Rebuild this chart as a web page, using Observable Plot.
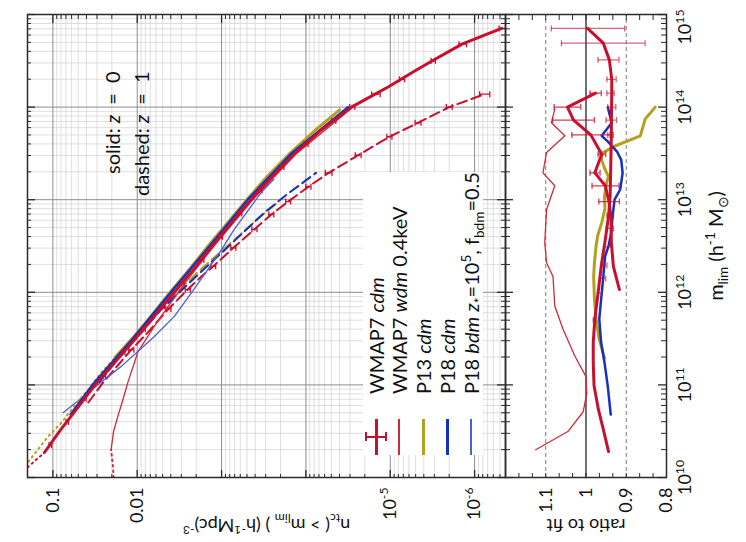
<!DOCTYPE html>
<html><head><meta charset="utf-8">
<script src="https://cdn.jsdelivr.net/npm/d3@7"></script>
<script src="https://cdn.jsdelivr.net/npm/@observablehq/plot@0.6"></script>
<style>
html,body{margin:0;padding:0;overflow:hidden;width:746px;height:542px;background:#fff;}
#fig{position:absolute;left:0;top:0;width:542px;height:746px;transform-origin:0 0;transform:translate(0px,542px) rotate(-90deg);font-family:Lato,sans-serif;}
#fig svg{display:block;overflow:visible;}
#legend{position:absolute;left:87px;top:363px;width:283px;height:120px;background:#fff;z-index:2;}
.row{position:absolute;left:0;height:24px;display:flex;align-items:center;font-size:20px;color:#111;white-space:nowrap;}
.row sub,.row sup{font-size:68%;line-height:0;}
.sw{position:relative;width:36px;height:24px;margin-right:25px;flex:none;}
.sw .ln{position:absolute;left:0;width:36px;}
.sw .eb{position:absolute;}
</style></head>
<body><div id="fig"><div id="legend"></div></div>
<script>
// ---------- colours ----------
const COL = {red:"#c8102e", redThin:"#cf2a3a", olive:"#b4a01e", blue:"#1830c0", blueThin:"#4a5fd8"};

// ---------- tick labels ----------
const mLabelTicks = [1e10, 1e11, 1e12, 1e13, 1e14, 1e15];
const mTickLabels = ["10^{10}", "10^{11}", "10^{12}", "10^{13}", "10^{14}", "10^{15}"];
const nLabelTicks = [0.1, 0.01, 1e-5, 1e-6];
const nTickLabels = ["0.1", "0.01", "10^{-5}", "10^{-6}"];
const ratioLabelTicks = [1.1, 1, 0.9, 0.8];
const ratioTickLabels = ["1.1", "1", "0.9", "0.8"];

// ---------- main panel: log10(m_lim) and log10(n) ----------
// WMAP7 cdm z=0 (thick red solid)
const cdm0_logM = [10.27,10.5,10.75,11.0,11.25,11.5,11.75,12.0,12.25,12.5,12.75,13.0,13.25,13.5,13.75,14.0,14.14,14.22,14.39,14.5,14.68,14.85];
const cdm0_logN = [-0.90,-1.08,-1.29,-1.50,-1.74,-1.98,-2.21,-2.44,-2.67,-2.89,-3.12,-3.35,-3.60,-3.87,-4.18,-4.54,-4.82,-4.98,-5.29,-5.50,-5.85,-6.32];
// below resolution (dotted)
const cdm0dot_logM = [10.11, 10.27];
const cdm0dot_logN = [-0.70, -0.90];
// simulation error bars z=0
const errZ0_logM = [10.35,10.6,10.85,11.1,11.35,11.6,11.85,12.1,12.35,12.6,12.85,13.1,13.35,13.6,13.85,14.0,14.14,14.3,14.5,14.68,14.85];
const errZ0_logN = [-0.97,-1.17,-1.38,-1.61,-1.84,-2.08,-2.31,-2.54,-2.77,-2.99,-3.22,-3.46,-3.72,-4.00,-4.33,-4.55,-4.83,-5.14,-5.51,-5.86,-6.33];
const errZ0_half = [0.015,0.015,0.015,0.015,0.015,0.015,0.015,0.015,0.02,0.02,0.02,0.02,0.02,0.025,0.025,0.03,0.05,0.03,0.025,0.045,0.04];

// WMAP7 cdm z=1 (red dashed)
const cdm1_logM = [10.81,11.03,11.38,11.57,11.82,12.03,12.17,12.28,12.48,12.68,12.84,12.98,13.14,13.29,13.48,13.68,13.83,14.0,14.14];
const cdm1_logN = [-1.42,-1.60,-1.93,-2.13,-2.37,-2.60,-2.76,-2.90,-3.14,-3.39,-3.59,-3.79,-4.03,-4.27,-4.62,-4.99,-5.33,-5.70,-6.12];
const errZ1_logM = [11.38,11.82,12.03,12.28,12.48,12.68,12.84,12.98,13.14,13.29,13.48,13.68,13.83,14.0,14.14];
const errZ1_logN = [-1.93,-2.37,-2.60,-2.90,-3.14,-3.39,-3.59,-3.79,-4.03,-4.27,-4.62,-4.99,-5.33,-5.70,-6.12];
const errZ1_half = [0.03,0.03,0.03,0.03,0.03,0.03,0.03,0.03,0.03,0.04,0.035,0.03,0.035,0.035,0.06];

// WMAP7 wdm 0.4keV z=0 (thin red)
const wdm_logM = [10.30,10.50,10.66,10.84,11.03,11.36,11.63,11.89,12.14,12.5,13.0,13.5,14.0];
const wdm_logN = [-1.69,-1.72,-1.77,-1.83,-1.89,-2.01,-2.20,-2.40,-2.60,-2.91,-3.37,-3.89,-4.56];
const wdmDot_logM = [10.0, 10.14, 10.30];
const wdmDot_logN = [-1.72, -1.71, -1.69];

// P13 cdm (olive)
const p13_logM = [11.3,11.5,11.75,12.0,12.25,12.5,12.75,13.0,13.25,13.5,13.75,13.97];
const p13_logN = [-1.74,-1.94,-2.17,-2.39,-2.62,-2.84,-3.07,-3.30,-3.54,-3.81,-4.11,-4.40];
const p13dot_logM = [10.17,10.44,10.59,10.77,10.95,11.13,11.3];
const p13dot_logN = [-0.71,-0.94,-1.10,-1.25,-1.42,-1.57,-1.74];
const p13z1_logM = [11.30,11.52,11.81,12.08,12.27,12.59,12.81,12.97];
const p13z1_logN = [-1.78,-2.01,-2.27,-2.56,-2.78,-3.18,-3.45,-3.67];

// P18 cdm (blue)
const p18_logM = [10.68,11.0,11.5,12.0,12.5,13.0,13.5,14.0];
const p18_logN = [-1.21,-1.47,-1.95,-2.40,-2.86,-3.31,-3.83,-4.50];
const p18z1_logM = [11.03,11.30,11.54,11.81,12.0,12.19,12.46,12.70,12.87,13.06,13.29];
const p18z1_logN = [-1.55,-1.79,-2.02,-2.28,-2.50,-2.72,-3.04,-3.32,-3.52,-3.78,-4.12];

// P18 bdm z*=1e5, f=0.5 (thin blue)
const bdm_logM = [10.70,10.85,11.00,11.20,11.38,11.52,11.74,12.03,12.25,12.46,12.68,12.89,13.08,13.22];
const bdm_logN = [-1.12,-1.33,-1.53,-1.81,-2.03,-2.20,-2.44,-2.67,-2.84,-3.00,-3.15,-3.32,-3.47,-3.62];

// ---------- ratio panel ----------
const r0_logM = [10.28,10.52,10.73,10.99,11.24,11.46,11.71,12.03,12.32,12.54,12.82,13.04,13.25,13.47,13.69,13.83,14.15,14.30,14.51,14.69,14.85];
const r0_val  = [0.944,0.957,0.969,0.980,0.982,0.982,0.978,0.969,0.961,0.953,0.944,0.940,0.939,0.938,0.937,0.937,0.936,0.936,0.942,0.957,0.996];
const r0err_logM = [11.70,11.99,12.15,12.29,12.49,12.69,12.83,13.70,13.86,14.0,14.15,14.30,14.51,14.69,14.85];
const r0err_lo   = [0.976,0.961,0.951,0.948,0.936,0.9315,0.9315,0.932,0.924,0.926,0.930,0.925,0.918,0.853,0.904];
const r0err_hi   = [0.982,0.971,0.965,0.961,0.954,0.950,0.948,0.946,0.950,0.946,0.948,0.948,0.970,1.061,1.086];

const r1_logM = [12.03,12.28,12.54,12.82,12.98,13.15,13.29,13.49,13.70,13.86,14.0,14.15];
const r1_val  = [0.917,0.932,0.937,0.938,0.943,0.952,0.978,0.961,0.988,1.031,1.046,0.976];
const r1err_logM = [12.98,13.15,13.29,13.49,13.70,13.86,14.0,14.15];
const r1err_lo   = [0.917,0.918,0.965,0.951,0.940,0.979,1.013,0.962];
const r1err_hi   = [0.968,0.985,0.990,0.970,1.035,1.083,1.079,0.990];

const rWdm_logM = [10.30,10.50,10.71,10.91,11.09,11.31,11.60,11.85,12.17,12.32,12.535,12.895,13.15,13.29,13.51,13.69,13.83,13.98];
const rWdm_val  = [1.125,1.044,1.007,0.998,1.0,1.0275,1.057,1.0775,1.082,1.098,1.1025,1.098,1.0775,1.107,1.098,1.0525,1.086,1.0775];

const rP13_logM = [11.29,11.49,11.71,11.92,12.17,12.32,12.50,12.61,12.75,12.90,13.04,13.18,13.25,13.33,13.43,13.50,13.58,13.69,13.87,14.0];
const rP13_val  = [0.954,0.967,0.975,0.979,0.981,0.979,0.975,0.971,0.961,0.953,0.954,0.949,0.944,0.953,0.961,0.961,0.928,0.865,0.853,0.828];

const rP18_logM = [10.68,10.99,11.24,11.46,11.71,11.92,12.17,12.39,12.50,12.64,12.82,13.0,13.11,13.29,13.43,13.52,13.63,13.69,13.83,14.0];
const rP18_val  = [0.9385,0.946,0.954,0.9625,0.967,0.9625,0.957,0.9525,0.944,0.9375,0.934,0.929,0.915,0.909,0.9125,0.923,0.946,0.961,0.936,0.946];

// ---------- legend ----------
const legendLabels = ["WMAP7 <i>cdm</i>", "WMAP7 <i>wdm</i> 0.4keV", "P13 <i>cdm</i>", "P18 <i>cdm</i>",
  "P18 <i>bdm</i> <i>z</i><sub>*</sub>=10<sup>5</sup>, f<sub>bdm</sub>=0.5"];

// ---------- helpers ----------
const pts = (lm, ln) => lm.map((m, i) => ({m: 10 ** m, n: 10 ** ln[i]}));
const rpts = (lm, v) => lm.map((m, i) => ({m: 10 ** m, r: v[i]}));
const errs = (lm, ln, h) => lm.map((m, i) => ({m: 10 ** m, lo: 10 ** (ln[i] - h[i]), hi: 10 ** (ln[i] + h[i])}));
const rerrs = (lm, lo, hi) => lm.map((m, i) => ({m: 10 ** m, lo: lo[i], hi: hi[i]}));
const capSymbol = {draw(ctx, size) { const r = Math.sqrt(size / Math.PI); ctx.moveTo(-r, 0); ctx.lineTo(r, 0); }};

const mMajor = [1e10, 1e11, 1e12, 1e13, 1e14, 1e15];
const mMinor = mMajor.slice(0, 5).flatMap(d => [2,3,4,5,6,7,8,9].map(k => k * d));
const nDomain = [4.3e-7, 0.2];
const nMajor = [1e-6, 1e-5, 1e-4, 1e-3, 1e-2, 1e-1];
const nMinor = [1e-7, ...nMajor].flatMap(d => [2,3,4,5,6,7,8,9].map(k => k * d)).filter(v => v > nDomain[0] && v < nDomain[1]);
const ratioMinor = d3.range(13).map(i => 0.8 + i / 30);

const W = 542, ML = 64, MR = 15;
const iw = W - ML - MR;
const H1 = 505, MT1 = 27, ih1 = H1 - MT1;
const H2 = 241, MB2 = 80, ih2 = H2 - MB2;
const frameCol = "#2a2a2a";

function errMarks(data, color, opacity) {
  return [
    Plot.ruleX(data, {x: "m", y1: "lo", y2: "hi", stroke: color, strokeWidth: 1.3, strokeOpacity: opacity, clip: true}),
    Plot.dot(data, {x: "m", y: "lo", symbol: capSymbol, r: 3, fill: "none", stroke: color, strokeWidth: 1.3, strokeOpacity: opacity, clip: true}),
    Plot.dot(data, {x: "m", y: "hi", symbol: capSymbol, r: 3, fill: "none", stroke: color, strokeWidth: 1.3, strokeOpacity: opacity, clip: true})
  ];
}

// ---------- main panel ----------
const main = Plot.plot({
  width: W, height: H1, marginLeft: ML, marginRight: MR, marginTop: MT1, marginBottom: 0,
  style: {fontFamily: "Lato, sans-serif", fontSize: "18px", overflow: "visible", background: "none"},
  x: {type: "log", domain: [1e10, 1e15], axis: null},
  y: {type: "log", domain: nDomain, axis: null},
  marks: [
    Plot.ruleX(mMinor, {x: d => d, stroke: "#d6d6d6", strokeWidth: 0.8}),
    Plot.ruleY(nMinor, {y: d => d, stroke: "#d6d6d6", strokeWidth: 0.8}),
    Plot.ruleX(mMajor, {x: d => d, stroke: "#8c8c8c", strokeWidth: 1}),
    Plot.ruleY(nMajor, {y: d => d, stroke: "#8c8c8c", strokeWidth: 1}),
    // z = 1 dashed
    Plot.line(pts(p13z1_logM, p13z1_logN), {x: "m", y: "n", stroke: COL.olive, strokeWidth: 2, strokeDasharray: "10,5", clip: true}),
    Plot.line(pts(p18z1_logM, p18z1_logN), {x: "m", y: "n", stroke: COL.blue, strokeWidth: 2, strokeDasharray: "10,5", clip: true}),
    Plot.line(pts(cdm1_logM, cdm1_logN), {x: "m", y: "n", stroke: COL.red, strokeWidth: 2, strokeDasharray: "10,5", clip: true}),
    ...errMarks(errs(errZ1_logM, errZ1_logN, errZ1_half), COL.red, 1),
    // thin curves
    Plot.line(pts(wdmDot_logM, wdmDot_logN), {x: "m", y: "n", stroke: COL.redThin, strokeWidth: 2, strokeDasharray: "1.5,4", strokeLinecap: "round", clip: true}),
    Plot.line(pts(wdm_logM, wdm_logN), {x: "m", y: "n", stroke: COL.redThin, strokeWidth: 1.3, clip: true}),
    Plot.line(pts(bdm_logM, bdm_logN), {x: "m", y: "n", stroke: COL.blueThin, strokeWidth: 1.3, clip: true}),
    // z = 0 thick
    Plot.line(pts(p13dot_logM, p13dot_logN), {x: "m", y: "n", stroke: COL.olive, strokeWidth: 2, strokeDasharray: "1.5,4", strokeLinecap: "round", clip: true}),
    Plot.line(pts(p13_logM, p13_logN), {x: "m", y: "n", stroke: COL.olive, strokeWidth: 3, clip: true}),
    Plot.line(pts(p18_logM, p18_logN), {x: "m", y: "n", stroke: COL.blue, strokeWidth: 2.5, clip: true}),
    Plot.line(pts(cdm0dot_logM, cdm0dot_logN), {x: "m", y: "n", stroke: COL.red, strokeWidth: 2, strokeDasharray: "1.5,4", strokeLinecap: "round", clip: true}),
    Plot.line(pts(cdm0_logM, cdm0_logN), {x: "m", y: "n", stroke: COL.red, strokeWidth: 3, clip: true}),
    ...errMarks(errs(errZ0_logM, errZ0_logN, errZ0_half), COL.red, 1),
    // frame and inward ticks
    Plot.frame({stroke: frameCol, strokeWidth: 1.5}),
    Plot.tickX(mMinor, {x: d => d, insetTop: ih1 - 4, stroke: frameCol}),
    Plot.tickX(mMinor, {x: d => d, insetBottom: ih1 - 4, stroke: frameCol}),
    Plot.tickX(mMajor, {x: d => d, insetTop: ih1 - 8, stroke: frameCol, strokeWidth: 1.3}),
    Plot.tickX(mMajor, {x: d => d, insetBottom: ih1 - 8, stroke: frameCol, strokeWidth: 1.3}),
    Plot.tickY(nMinor, {y: d => d, insetRight: iw - 4, stroke: frameCol}),
    Plot.tickY(nMinor, {y: d => d, insetLeft: iw - 4, stroke: frameCol}),
    Plot.tickY(nMajor, {y: d => d, insetRight: iw - 8, stroke: frameCol, strokeWidth: 1.3}),
    Plot.tickY(nMajor, {y: d => d, insetLeft: iw - 8, stroke: frameCol, strokeWidth: 1.3}),
    // labels
    Plot.text(nLabelTicks, {y: d => d, frameAnchor: "left", text: (d, i) => nTickLabels[i], textAnchor: "end", lineAnchor: "middle", dx: -10, fontSize: 18, fill: "#111"}),
    Plot.text(["n_{tc}( > m_{lim} ) (h^{-1}Mpc)^{-3}"], {frameAnchor: "left", rotate: -90, dx: -47, fontSize: 18, textAnchor: "middle", lineAnchor: "middle", fill: "#111"}),
    Plot.text(["solid: ~{z}\u2002=\u20020"], {frameAnchor: "top-right", dx: -57, dy: 86, textAnchor: "end", lineAnchor: "middle", fontSize: 20, fill: "#111"}),
    Plot.text(["dashed: ~{z}\u2002=\u20021"], {frameAnchor: "top-right", dx: -57, dy: 115, textAnchor: "end", lineAnchor: "middle", fontSize: 20, fill: "#111"})
  ]
});

// ---------- ratio panel ----------
const ratio = Plot.plot({
  width: W, height: H2, marginLeft: ML, marginRight: MR, marginTop: 0, marginBottom: MB2,
  style: {fontFamily: "Lato, sans-serif", fontSize: "18px", overflow: "visible", background: "none"},
  x: {type: "log", domain: [1e10, 1e15], axis: null},
  y: {domain: [0.8, 1.2], axis: null},
  marks: [
    Plot.ruleY([0.9, 1.1], {y: d => d, stroke: "#7a7a7a", strokeDasharray: "4,3", strokeWidth: 1}),
    Plot.ruleY([1], {y: d => d, stroke: "#111", strokeWidth: 1.2}),
    Plot.line(rpts(rWdm_logM, rWdm_val), {x: "m", y: "r", stroke: COL.redThin, strokeWidth: 1.3, clip: true}),
    Plot.line(rpts(rP13_logM, rP13_val), {x: "m", y: "r", stroke: COL.olive, strokeWidth: 3, clip: true}),
    Plot.line(rpts(rP18_logM, rP18_val), {x: "m", y: "r", stroke: COL.blue, strokeWidth: 2.5, clip: true}),
    Plot.line(rpts(r1_logM, r1_val), {x: "m", y: "r", stroke: COL.red, strokeWidth: 3, clip: true}),
    Plot.line(rpts(r0_logM, r0_val), {x: "m", y: "r", stroke: COL.red, strokeWidth: 3, clip: true}),
    ...errMarks(rerrs(r0err_logM, r0err_lo, r0err_hi), COL.red, 0.65),
    ...errMarks(rerrs(r1err_logM, r1err_lo, r1err_hi), COL.red, 0.8),
    Plot.frame({stroke: frameCol, strokeWidth: 1.5}),
    Plot.tickY(ratioMinor, {y: d => d, insetRight: iw - 5, stroke: frameCol}),
    Plot.tickY(ratioMinor, {y: d => d, insetLeft: iw - 5, stroke: frameCol}),
    Plot.tickX(mMinor, {x: d => d, insetTop: ih2 - 5, stroke: frameCol}),
    Plot.tickX(mMinor, {x: d => d, insetBottom: ih2 - 5, stroke: frameCol}),
    Plot.tickX(mMajor, {x: d => d, insetTop: ih2 - 8, stroke: frameCol, strokeWidth: 1.3}),
    Plot.tickX(mMajor, {x: d => d, insetBottom: ih2 - 8, stroke: frameCol, strokeWidth: 1.3}),
    Plot.text(ratioLabelTicks, {y: d => d, frameAnchor: "left", text: (d, i) => ratioTickLabels[i], textAnchor: "end", lineAnchor: "middle", dx: -10, fontSize: 18, fill: "#111"}),
    Plot.text(["ratio to fit"], {frameAnchor: "left", rotate: -90, dx: -47, fontSize: 18, textAnchor: "middle", lineAnchor: "middle", fill: "#111"}),
    Plot.text(mLabelTicks.slice(0, 5), {x: d => d, frameAnchor: "bottom", dy: 19, text: (d, i) => mTickLabels[i], textAnchor: "middle", lineAnchor: "middle", fontSize: 18, fill: "#111"}),
    Plot.text(mLabelTicks.slice(5), {x: d => d, frameAnchor: "bottom", dy: 19, dx: 5, text: () => mTickLabels[5], textAnchor: "end", lineAnchor: "middle", fontSize: 18, fill: "#111"}),
    Plot.text(["m_{lim} (h^{-1} M_{\u2299})"], {frameAnchor: "bottom", dy: 50, textAnchor: "middle", lineAnchor: "middle", fontSize: 20, fill: "#111"})
  ]
});

const fig = document.getElementById("fig");
fig.insertBefore(main, fig.firstChild);
fig.insertBefore(ratio, main.nextSibling);

// rich text (superscript ^{}, subscript _{}, italic ~{}) for SVG labels
function richify(root) {
  const NS = "http://www.w3.org/2000/svg";
  root.querySelectorAll("text").forEach(t => {
    const s = t.textContent;
    if (!/[\^_~]\{/.test(s)) return;
    const fs = parseFloat(getComputedStyle(t).fontSize) || 18;
    while (t.firstChild) t.removeChild(t.firstChild);
    const re = /([\^_~])\{([^}]*)\}/g;
    let last = 0, mm, shift = 0;
    const add = (txt, kind) => {
      if (!txt) return;
      const ts = document.createElementNS(NS, "tspan");
      ts.textContent = txt;
      const target = kind === "^" ? -0.42 * fs : kind === "_" ? 0.25 * fs : 0;
      const dy = target - shift;
      if (Math.abs(dy) > 1e-6) ts.setAttribute("dy", dy.toFixed(2));
      shift = target;
      if (kind === "^" || kind === "_") ts.setAttribute("font-size", (0.68 * fs).toFixed(2));
      if (kind === "~") ts.setAttribute("font-style", "italic");
      t.appendChild(ts);
    };
    while ((mm = re.exec(s))) { add(s.slice(last, mm.index), null); add(mm[2], mm[1]); last = re.lastIndex; }
    add(s.slice(last), null);
  });
}
richify(main); richify(ratio);

// ---------- legend (HTML) ----------
const legendColors = [COL.red, COL.redThin, COL.olive, COL.blue, COL.blueThin];
const legendWidths = [3, 1.6, 3, 3, 2];
const legendCenters = [13, 36, 60, 84, 108];
const leg = document.getElementById("legend");
legendLabels.forEach((lab, i) => {
  const row = document.createElement("div");
  row.className = "row";
  row.style.top = (legendCenters[i] - 12) + "px";
  const sw = document.createElement("div");
  sw.className = "sw";
  const ln = document.createElement("div");
  ln.className = "ln";
  ln.style.top = (12 - legendWidths[i] / 2) + "px";
  ln.style.height = legendWidths[i] + "px";
  ln.style.background = legendColors[i];
  sw.appendChild(ln);
  if (i === 0) {
    const v = document.createElement("div"); v.className = "eb";
    Object.assign(v.style, {left: "17px", top: "1.5px", width: "2px", height: "21px", background: COL.red});
    const c1 = document.createElement("div"); c1.className = "eb";
    Object.assign(c1.style, {left: "13.5px", top: "1px", width: "9px", height: "2px", background: COL.red});
    const c2 = document.createElement("div"); c2.className = "eb";
    Object.assign(c2.style, {left: "13.5px", top: "21px", width: "9px", height: "2px", background: COL.red});
    sw.appendChild(v); sw.appendChild(c1); sw.appendChild(c2);
  }
  row.appendChild(sw);
  const tx = document.createElement("span");
  tx.innerHTML = lab;
  row.appendChild(tx);
  leg.appendChild(row);
});
</script>
</body></html>
